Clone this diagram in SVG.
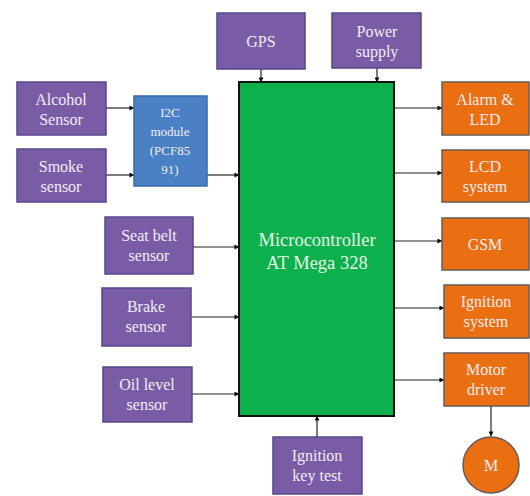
<svg xmlns="http://www.w3.org/2000/svg" width="530" height="496" viewBox="0 0 530 496" font-family="Liberation Serif, serif">
<style>
.p rect{fill:#7a5ca6;stroke:#56468a;stroke-width:1.5}
.o rect,.o circle{fill:#ea6f10;stroke:#6a5a58;stroke-width:1.5}
.b rect{fill:#4a80c4;stroke:#3a6aa8;stroke-width:1.5}
text{font-family:"Liberation Serif","Times New Roman",serif;font-size:16px;fill:#f2ecf6;text-anchor:middle}
.mc text{font-size:18.5px;fill:#e6f6e6}
.b text{font-size:13px}
.c line{stroke:#222;stroke-width:1.2;marker-end:url(#ah)}
</style>
<defs>
<marker id="ah" viewBox="0 0 6 6" refX="5.5" refY="3" markerWidth="5" markerHeight="5" orient="auto" markerUnits="userSpaceOnUse">
<path d="M0,0 L6,3 L0,6 z" fill="#111"/>
</marker>
</defs>
<rect width="530" height="496" fill="#fff"/>
<g id="connectors" class="c">
<line x1="106" y1="108" x2="134" y2="108"/>
<line x1="106" y1="175" x2="134" y2="175"/>
<line x1="207" y1="175" x2="239" y2="175"/>
<line x1="193" y1="247" x2="239" y2="247"/>
<line x1="191" y1="317" x2="239" y2="317"/>
<line x1="192" y1="394" x2="239" y2="394"/>
<line x1="261" y1="69" x2="261" y2="82"/>
<line x1="377" y1="68" x2="377" y2="82"/>
<line x1="317" y1="437" x2="317" y2="416"/>
<line x1="394" y1="108" x2="442" y2="108"/>
<line x1="394" y1="173" x2="442" y2="173"/>
<line x1="394" y1="241" x2="442" y2="241"/>
<line x1="394" y1="308" x2="444" y2="308"/>
<line x1="394" y1="380" x2="444" y2="380"/>
<line x1="491" y1="406" x2="491" y2="436"/>
</g>
<g id="mcu" class="mc">
<rect x="239" y="82" width="155" height="334" fill="#0cb04c" stroke="#111" stroke-width="2"/>
<text x="317" y="246">Microcontroller</text>
<text x="317" y="269">AT Mega 328</text>
</g>
<g id="gps" class="p"><rect x="217" y="13" width="88" height="56"/><text x="261" y="47">GPS</text></g>
<g id="power" class="p"><rect x="332" y="13" width="89" height="55"/><text x="377" y="37">Power</text><text x="377" y="57">supply</text></g>
<g id="alcohol" class="p"><rect x="17" y="82" width="89" height="53"/><text x="61" y="105">Alcohol</text><text x="61" y="125">Sensor</text></g>
<g id="smoke" class="p"><rect x="17" y="149" width="89" height="53"/><text x="61" y="172">Smoke</text><text x="61" y="192">sensor</text></g>
<g id="i2c" class="b"><rect x="134" y="96" width="73" height="90"/>
<text x="170" y="117">I2C</text><text x="170" y="136">module</text><text x="170" y="155">(PCF85</text><text x="170" y="174">91)</text></g>
<g id="seatbelt" class="p"><rect x="105" y="217" width="88" height="57"/><text x="149" y="241">Seat belt</text><text x="149" y="261">sensor</text></g>
<g id="brake" class="p"><rect x="102" y="288" width="89" height="58"/><text x="146" y="312">Brake</text><text x="146" y="332">sensor</text></g>
<g id="oil" class="p"><rect x="103" y="367" width="89" height="55"/><text x="147" y="390">Oil level</text><text x="147" y="410">sensor</text></g>
<g id="ignkey" class="p"><rect x="273" y="437" width="89" height="57"/><text x="317" y="461">Ignition</text><text x="317" y="481">key test</text></g>
<g id="alarm" class="o"><rect x="442" y="82" width="87" height="53"/><text x="485" y="105">Alarm &amp;</text><text x="485" y="125">LED</text></g>
<g id="lcd" class="o"><rect x="442" y="150" width="87" height="52"/><text x="485" y="172">LCD</text><text x="485" y="192">system</text></g>
<g id="gsm" class="o"><rect x="442" y="218" width="87" height="52"/><text x="485" y="250">GSM</text></g>
<g id="ignsys" class="o"><rect x="444" y="285" width="85" height="53"/><text x="486" y="307">Ignition</text><text x="486" y="327">system</text></g>
<g id="motor" class="o"><rect x="444" y="353" width="85" height="53"/><text x="486" y="375">Motor</text><text x="486" y="395">driver</text></g>
<g id="m" class="o"><circle cx="491" cy="465" r="28"/><text x="491" y="471">M</text></g>
</svg>
